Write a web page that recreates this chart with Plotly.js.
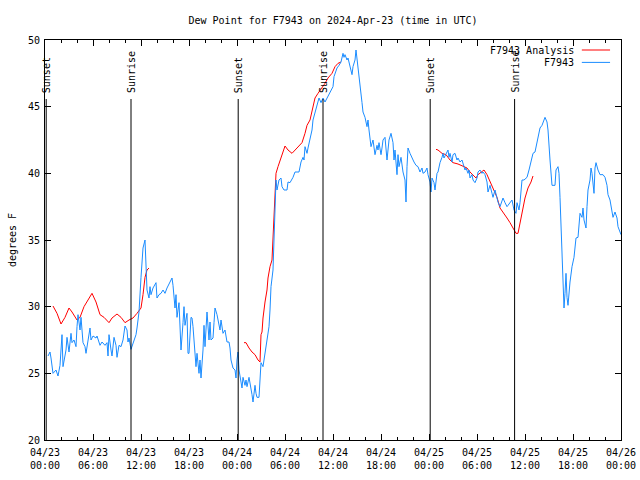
<!DOCTYPE html>
<html>
<head>
<meta charset="utf-8">
<script src="https://cdn.plot.ly/plotly-3.0.1.min.js"></script>
<style>html,body{margin:0;padding:0;background:#fff;}#chart{width:640px;height:480px;}</style>
</head>
<body>
<div id="chart"></div>
<script>
// Hours after 2024-04-23 00:00 UTC, and dew point (deg F)
const obsHours = [0.375,0.625,0.75,1.0,1.375,1.625,1.875,2.125,2.25,2.625,2.75,3.0,3.25,3.375,3.625,3.875,4.0,4.125,4.375,4.5,4.75,5.0,5.125,5.375,5.625,5.75,6.0,6.375,6.5,6.875,7.125,7.5,7.75,7.875,8.0,8.25,8.375,8.625,8.875,9.0,9.25,9.5,9.75,10.0,10.25,10.375,10.5,10.75,11.0,11.375,11.5,11.75,12.0,12.125,12.25,12.5,12.625,12.75,13.0,13.125,13.25,13.5,13.875,14.0,14.25,14.5,14.75,15.0,15.25,15.625,15.875,16.0,16.25,16.375,16.5,16.75,16.875,17.0,17.25,17.375,17.5,17.75,17.875,18.0,18.25,18.375,18.5,18.75,18.875,19.0,19.25,19.375,19.5,19.75,19.875,20.0,20.125,20.25,20.5,20.625,20.75,21.0,21.125,21.25,21.5,21.625,21.875,22.0,22.25,22.5,22.75,23.0,23.125,23.25,23.5,23.75,23.875,24.0,24.125,24.25,24.5,24.625,24.75,25.0,25.125,25.25,25.5,25.625,25.75,25.875,26.0,26.25,26.375,26.5,26.75,26.875,27.0,27.25,27.375,27.625,27.75,28.0,28.125,28.25,28.5,28.75,28.875,29.0,29.25,29.5,29.625,29.875,30.25,30.375,30.625,31.0,31.25,31.75,32.0,32.25,32.375,32.5,32.75,32.875,33.125,33.375,33.5,33.75,34.0,34.125,34.25,34.5,34.75,35.0,35.25,35.375,35.75,36.0,36.125,36.5,36.75,37.0,37.25,37.375,37.5,37.75,37.875,38.125,38.375,38.5,38.75,38.875,39.0,39.25,39.375,39.5,39.625,39.75,40.0,40.25,40.375,40.5,40.625,40.75,41.0,41.125,41.25,41.5,41.625,41.75,42.0,42.125,42.25,42.5,42.625,42.75,43.0,43.125,43.25,43.5,43.625,43.75,44.0,44.125,44.25,44.5,44.625,44.75,45.0,45.125,45.25,45.375,45.625,45.875,46.125,46.375,46.625,46.875,47.125,47.25,47.5,47.75,47.875,48.125,48.25,48.375,48.625,48.75,49.0,49.125,49.375,49.625,49.75,49.875,50.125,50.375,50.5,50.625,50.875,51.0,51.25,51.5,51.625,51.875,52.125,52.375,52.5,52.625,52.875,53.0,53.125,53.375,53.5,53.75,54.0,54.125,54.375,54.625,54.75,55.0,55.25,55.375,55.625,55.875,56.0,56.25,56.5,56.625,56.875,57.125,57.25,57.5,57.75,57.875,58.125,58.375,58.625,58.875,59.0,59.25,59.375,59.625,59.875,60.25,60.5,60.75,61.0,61.25,61.5,61.625,61.875,62.125,62.25,62.5,62.75,62.875,63.125,63.25,63.375,63.75,63.875,64.125,64.25,64.375,64.5,64.625,64.75,64.875,65.0,65.125,65.25,65.375,65.625,65.75,65.875,66.125,66.25,66.375,66.625,66.75,66.875,67.125,67.25,67.375,67.625,67.75,67.875,68.125,68.25,68.375,68.625,68.75,68.875,69.125,69.375,69.75,70.0,70.25,70.375,70.625,70.875,71.0,71.25,71.5,71.625,71.875,72.0];
const obsValues = [26.3,26.6,26.15,25.0,25.25,24.8,25.6,27.9,25.5,26.75,27.7,26.6,28.0,27.3,27.5,27.0,28.5,29.4,28.25,29.2,27.3,27.0,26.5,27.3,28.4,27.5,27.8,27.65,27.8,27.1,27.35,27.1,27.3,26.3,27.9,26.75,26.3,27.7,27.1,26.2,27.1,27.0,27.5,28.55,28.25,27.35,27.65,26.8,27.3,27.9,28.4,29.6,32.2,33.5,34.4,35.0,33.0,31.25,30.65,31.5,30.9,31.4,31.8,30.65,30.9,31.0,31.25,31.0,31.4,31.85,32.15,31.6,29.9,30.9,29.2,30.3,29.0,26.75,28.8,30.0,28.6,29.5,26.5,26.5,29.2,29.15,28.5,26.5,25.5,26.5,25.0,26.0,24.65,26.75,28.6,27.0,28.25,29.6,27.5,28.85,27.5,27.65,28.8,29.9,29.4,29.0,28.25,29.0,28.0,28.25,27.35,27.35,26.9,26.0,25.4,25.25,24.65,26.0,26.6,25.25,24.5,23.9,24.7,24.1,24.5,24.0,24.7,24.35,24.0,23.4,22.85,24.1,23.5,23.2,23.2,24.7,25.8,25.5,26.0,26.75,27.5,28.5,29.75,31.5,32.75,36.7,39.5,38.75,39.5,39.65,39.0,38.75,38.75,39.35,39.3,39.7,40.1,40.1,40.85,41.2,41.0,42.0,41.5,41.9,42.7,43.25,44.0,44.5,45.0,45.35,45.65,45.3,45.65,45.35,45.65,45.7,46.25,46.5,47.25,47.9,48.1,48.35,49.0,48.7,48.9,48.5,48.65,47.9,47.4,48.0,48.5,49.25,48.5,47.25,46.5,45.5,45.3,44.6,44.2,43.5,44.0,43.25,42.3,42.0,42.5,41.9,41.4,42.1,41.75,42.3,41.4,41.9,42.5,42.7,41.4,41.0,42.5,42.9,43.0,42.3,41.0,41.75,39.9,41.4,40.5,41.2,40.6,40.1,39.5,37.85,40.5,41.9,41.5,41.15,40.85,40.6,40.5,40.1,40.4,40.0,40.1,40.4,39.9,39.35,38.6,39.65,39.3,38.75,40.0,40.1,40.8,41.2,41.5,41.15,41.5,41.75,41.2,41.5,40.85,41.4,41.5,41.0,41.15,40.85,41.0,40.5,40.25,40.4,40.0,40.25,39.65,39.9,39.5,39.3,39.65,40.1,40.25,40.0,40.1,39.9,39.35,38.6,39.1,38.5,38.2,38.75,38.15,37.85,37.5,38.0,38.15,37.8,37.5,37.6,37.85,38.0,37.25,37.0,37.8,37.25,37.8,39.5,39.5,39.7,40.25,40.8,41.5,41.6,42.3,42.7,43.4,43.6,43.8,44.2,43.85,43.25,41.0,39.7,39.1,39.1,40.25,40.5,40.0,38.2,36.0,33.5,31.5,29.9,31.0,32.5,30.7,30.1,31.85,32.75,33.0,33.7,34.8,35.15,35.2,36.5,37.0,36.7,37.4,36.5,35.9,37.5,38.75,39.5,40.4,40.0,38.5,40.4,40.8,40.25,39.9,39.9,39.7,39.1,38.4,38.0,37.25,36.7,37.1,36.65,36.0,35.5,35.4];

// Analysis series (null = gap)
const anaHours = [1.0,1.5,2.0,2.5,3.0,3.375,4.0,4.375,4.875,5.375,5.875,6.375,6.875,7.375,8.0,8.375,9.0,9.5,10.0,10.5,11.0,11.5,12.0,12.25,12.5,12.75,13.0,18.0,24.875,25.125,25.5,25.875,26.25,26.625,26.875,27.0,27.125,27.25,27.5,27.75,27.875,28.125,28.375,28.625,28.875,29.125,29.5,29.75,30.0,30.375,30.875,31.5,32.125,32.5,32.75,33.125,33.5,33.75,34.125,34.625,35.0,35.375,35.875,36.25,36.625,37.0,42.0,48.875,49.125,49.625,50.125,50.625,51.0,51.625,52.25,52.75,53.125,53.5,53.875,54.125,54.625,54.875,55.25,55.625,56.0,56.5,56.875,57.25,57.75,58.125,58.5,58.875,59.125,59.375,59.625,60.0,60.375,60.75,61.0];
const anaValues = [30.05,29.5,28.7,29.2,29.9,29.6,29.0,29.2,30.0,30.5,31.0,30.35,29.4,29.2,28.8,29.15,29.45,29.2,28.8,29.0,29.15,29.5,29.9,30.9,32.2,32.75,32.9,null,27.3,27.3,26.9,26.6,26.4,26.0,25.85,27.9,28.1,29.15,30.35,31.25,32.15,33.0,33.5,37.0,40.0,40.5,41.2,41.75,42.05,41.75,41.5,41.9,42.3,43.0,43.6,44.0,44.9,45.65,46.0,46.4,46.75,47.15,47.5,48.0,48.25,48.35,null,41.8,41.75,41.5,41.4,41.0,40.8,40.7,40.55,40.4,40.1,39.9,39.65,39.9,40.1,40.25,39.9,39.35,38.9,38.2,37.4,37.1,36.65,36.3,35.9,35.5,35.5,36.3,37.25,38.15,38.9,39.35,39.8];

const sunEvents = ["Sunset","Sunrise","Sunset","Sunrise","Sunset","Sunrise"];
const sunHours = [0.15,10.75,24.15,34.75,48.15,58.7];

const baseMs = Date.UTC(2024,3,23,0,0,0);
function toTime(h){ return new Date(baseMs + h*3600000).toISOString().slice(0,19).replace('T',' '); }

const FONT = {family:'"DejaVu Sans Mono", "Liberation Mono", monospace', size:10, color:'#000'};
const RED = '#ff0000', BLUE = '#1a8cff';

const traces = [
  {x: anaHours.map(toTime), y: anaValues, type:'scatter', mode:'lines', name:'F7943 Analysis',
   line:{color:RED, width:1}, connectgaps:false, showlegend:false},
  {x: obsHours.map(toTime), y: obsValues, type:'scatter', mode:'lines', name:'F7943',
   line:{color:BLUE, width:1}, showlegend:false}
];

const shapes = sunHours.map(h => ({type:'line', xref:'x', yref:'paper', x0:toTime(h), x1:toTime(h), y0:0, y1:0.8525,
  line:{color:'#000', width:1}}));
const annotations = sunEvents.map((t,i) => ({text:t, x:toTime(sunHours[i]), xref:'x', yref:'paper', y:0.865,
  xanchor:'center', yanchor:'bottom', textangle:-90, showarrow:false, font:FONT, borderpad:0}));

// manual legend (text right, sample on right)
const legendItems = [{name:'F7943 Analysis', color:RED}, {name:'F7943', color:BLUE}];
legendItems.forEach((it,i) => {
  const yp = 0.975 - i*0.031;
  annotations.push({text:it.name, xref:'paper', yref:'paper', x:0.921, y:yp, xanchor:'right', yanchor:'middle',
    showarrow:false, font:FONT, borderpad:0});
  shapes.push({type:'line', xref:'paper', yref:'paper', x0:0.932, x1:0.981, y0:yp, y1:yp, line:{color:it.color, width:1}});
});

const layout = {
  width:640, height:480,
  margin:{l:45, r:19, t:40, b:40, pad:0},
  paper_bgcolor:'#fff', plot_bgcolor:'#fff',
  font:FONT,
  title:{text:'Dew Point for F7943 on 2024-Apr-23 (time in UTC)', font:FONT, x:0.5, xref:'paper', y:0.958, yref:'container', yanchor:'middle'},
  xaxis:{type:'date', range:[toTime(0), toTime(72)], dtick:6*3600000, tick0:toTime(0), tickformat:'%m/%d<br>%H:%M',
    ticks:'inside', ticklen:6, tickcolor:'#000', showline:true, linecolor:'#000', linewidth:1, mirror:'ticks',
    showgrid:false, zeroline:false, tickfont:FONT, ticklabelstandoff:3,
    minor:{dtick:2*3600000, tick0:toTime(0), ticks:'inside', ticklen:3, tickcolor:'#000', showgrid:false}},
  yaxis:{range:[20,50], dtick:5, ticks:'inside', ticklen:6, tickcolor:'#000', showline:true, linecolor:'#000', linewidth:1,
    mirror:'ticks', showgrid:false, zeroline:false, tickfont:FONT, ticklabelstandoff:2,
    title:{text:'degrees F', font:FONT, standoff:9}},
  shapes:shapes, annotations:annotations, showlegend:false
};

Plotly.newPlot('chart', traces, layout, {staticPlot:true, displayModeBar:false});
</script>
</body>
</html>
